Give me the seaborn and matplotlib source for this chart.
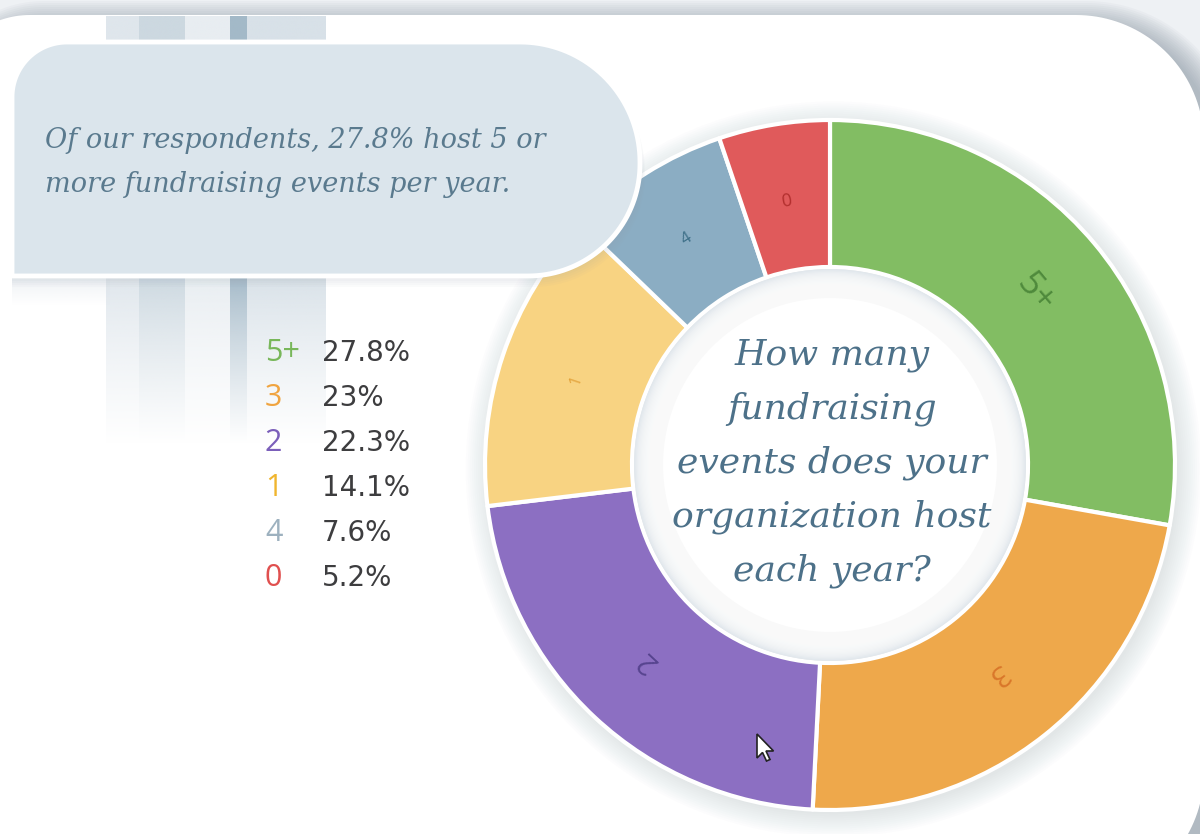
import numpy as np
import matplotlib
matplotlib.use("Agg")
import matplotlib.pyplot as plt
from matplotlib.patches import Polygon, Circle
from matplotlib.colors import to_rgb
import seaborn as sns

# data
categories = ['5+', '3', '2', '1', '4', '0']
shares = [27.8, 23.0, 22.3, 14.1, 7.6, 5.2]
share_labels = ['27.8%', '23%', '22.3%', '14.1%', '7.6%', '5.2%']

seg_colors = ['#82bd63', '#eea84b', '#8c6fc2', '#f8d382', '#8badc3', '#e05a5b']
seg_text_colors = ['#4f8a3c', '#d9772a', '#57448f', '#e3a23a', '#3d6f88', '#b3302f']
key_colors = ['#78b75a', '#f0a440', '#7b5fba', '#f0b52e', '#9db1bf', '#e0504f']
seg_font_sizes = [25, 21, 21, 12, 12, 13]

question = ['How many', 'fundraising', 'events does your', 'organization host', 'each year?']
callout = ['Of our respondents, 27.8% host 5 or', 'more fundraising events per year.']

sns.set_theme(style='white')
plt.rcParams['font.family'] = ['DejaVu Sans']

W, H = 1200, 834
fig = plt.figure(figsize=(12, 8.34), dpi=100)
fig.patch.set_facecolor('#eef1f4')


def rounded_poly(x0, y0, x1, y1, rtl, rtr, rbr, rbl, n=40):
    pts = []
    def arc(cx, cy, r, a0, a1):
        if r <= 0:
            pts.append((cx, cy))
            return
        t = np.linspace(np.radians(a0), np.radians(a1), n)
        pts.extend(zip(cx + r * np.cos(t), cy + r * np.sin(t)))
    # y grows downward here
    arc(x0 + rtl, y0 + rtl, rtl, 180, 270)
    arc(x1 - rtr, y0 + rtr, rtr, 270, 360)
    arc(x1 - rbr, y1 - rbr, rbr, 0, 90)
    arc(x0 + rbl, y1 - rbl, rbl, 90, 180)
    return np.array(pts)


def vgrad(axis, x0, x1, y0, y1, color, a0=1.0, a1=0.0, power=1.0):
    n = 64
    img = np.zeros((n, 1, 4))
    img[..., :3] = to_rgb(color)
    img[:, 0, 3] = a0 + (a1 - a0) * np.linspace(0, 1, n) ** power
    axis.imshow(img, extent=(x0, x1, y1, y0), aspect='auto', interpolation='bilinear', zorder=1)


# background + card
bg = fig.add_axes([0, 0, 1, 1])
for d in range(26, 0, -2):
    bg.add_patch(Polygon(rounded_poly(-60 - d + 14, 15 - d + 12, 1204 + d + 10, 900 + d, 90 + d, 128 + d, 128 + d, 90 + d),
                         closed=True, fc='#7d8a97', ec='none', alpha=0.05))
bg.add_patch(Polygon(rounded_poly(-60, 15, 1204, 900, 90, 128, 128, 90), closed=True, fc='white', ec='none'))

# faint decorative columns
cols = [(106, 139, '#dfe6ec'), (139, 185, '#ccd8e0'), (185, 230, '#e8edf1'), (230, 247, '#a3b9c8'), (247, 326, '#d8e1e8')]
for x0, x1, c in cols:
    vgrad(bg, x0, x1, 16, 46, c, 1.0, 1.0)
    vgrad(bg, x0, x1, 278, 445, c, 1.0, 0.0, 0.8)
vgrad(bg, 12, 110, 276, 305, '#dde4ea', 0.5, 0.0)
bg.set_xlim(0, W)
bg.set_ylim(H, 0)
bg.axis('off')

# donut
cx, cy, R, L = 830, 465, 345, 1.15
side = 2 * R * L
ax = fig.add_axes([(cx - R * L) / W, (H - cy - R * L) / H, side / W, side / H])
ax.patch.set_alpha(0)

for i in range(12):
    ax.add_patch(Circle((0.01, -0.012), 1.0 + 0.006 * i, fc='#8a97a5', ec='none', alpha=0.02, zorder=0))

inner = 198 / 345
ax.pie(shares, startangle=90, counterclock=False, radius=1.0, colors=seg_colors,
       wedgeprops=dict(width=1 - inner, edgecolor='white', linewidth=3.0, joinstyle='round'))

ax.add_patch(Circle((0, 0), inner - 0.006, fc='#e2e8ed', ec='none', zorder=3))
for i in range(22):
    ax.add_patch(Circle((0, 0), inner - 0.01 - 0.0035 * i, fc='white', ec='none', alpha=0.16, zorder=3))
ax.add_patch(Circle((0, 0), inner - 0.09, fc='white', ec='none', zorder=3))

cum = np.cumsum([0] + shares[:-1])
r_lab = 0.775
for cat, s, c0, tc, fs in zip(categories, shares, cum, seg_text_colors, seg_font_sizes):
    mid = 90 - (c0 + s / 2) * 3.6
    a = np.radians(mid)
    ax.text(r_lab * np.cos(a), r_lab * np.sin(a), cat, rotation=mid - 90, rotation_mode='anchor',
            ha='center', va='center', color=tc, fontsize=fs, family=['Open Sans', 'DejaVu Sans'], zorder=5)

ax.set_xlim(-L, L)
ax.set_ylim(-L, L)
ax.axis('off')

# overlay: callout, legend, question text
ov = fig.add_axes([0, 0, 1, 1])
ov.patch.set_alpha(0)
ov.set_xlim(0, W)
ov.set_ylim(H, 0)
ov.axis('off')

for d in range(10, 0, -2):
    ov.add_patch(Polygon(rounded_poly(12, 42 + d, 640 + d / 2, 277 + d, 55, 120, 112, 0),
                         closed=True, fc='#8c99a6', ec='none', alpha=0.035))
ov.add_patch(Polygon(rounded_poly(12, 42, 640, 276, 55, 120, 112, 0), closed=True,
                     fc='#dbe5ec', ec='white', lw=3.5))
for k, line in enumerate(callout):
    ov.text(45, 140 + k * 44, line, ha='left', va='center', fontsize=19.5, style='italic',
            family=['DejaVu Serif'], color='#5a7a8e')

for k, line in enumerate(question):
    ov.text(cx + 2, 355 + k * 54, line, ha='center', va='center', fontsize=26, style='italic',
            family=['DejaVu Serif'], color='#4d7189')

for k, (cat, lab, kc) in enumerate(zip(categories, share_labels, key_colors)):
    y = 353 + k * 45
    ov.text(265, y, cat, ha='left', va='center', fontsize=22, color=kc, family=['Open Sans', 'DejaVu Sans'])
    ov.text(322, y, lab, ha='left', va='center', fontsize=20, color='#3d3d3f')

# mouse pointer
ptr = np.array([(0, 0), (0, 24), (5.5, 18.5), (9.5, 27), (13, 25.5), (9, 17), (16.5, 17)])
ov.add_patch(Polygon(ptr + [757, 734], closed=True, fc='white', ec='#222222', lw=1.2, zorder=10))

fig.savefig('out.png', dpi=100, facecolor=fig.get_facecolor())
